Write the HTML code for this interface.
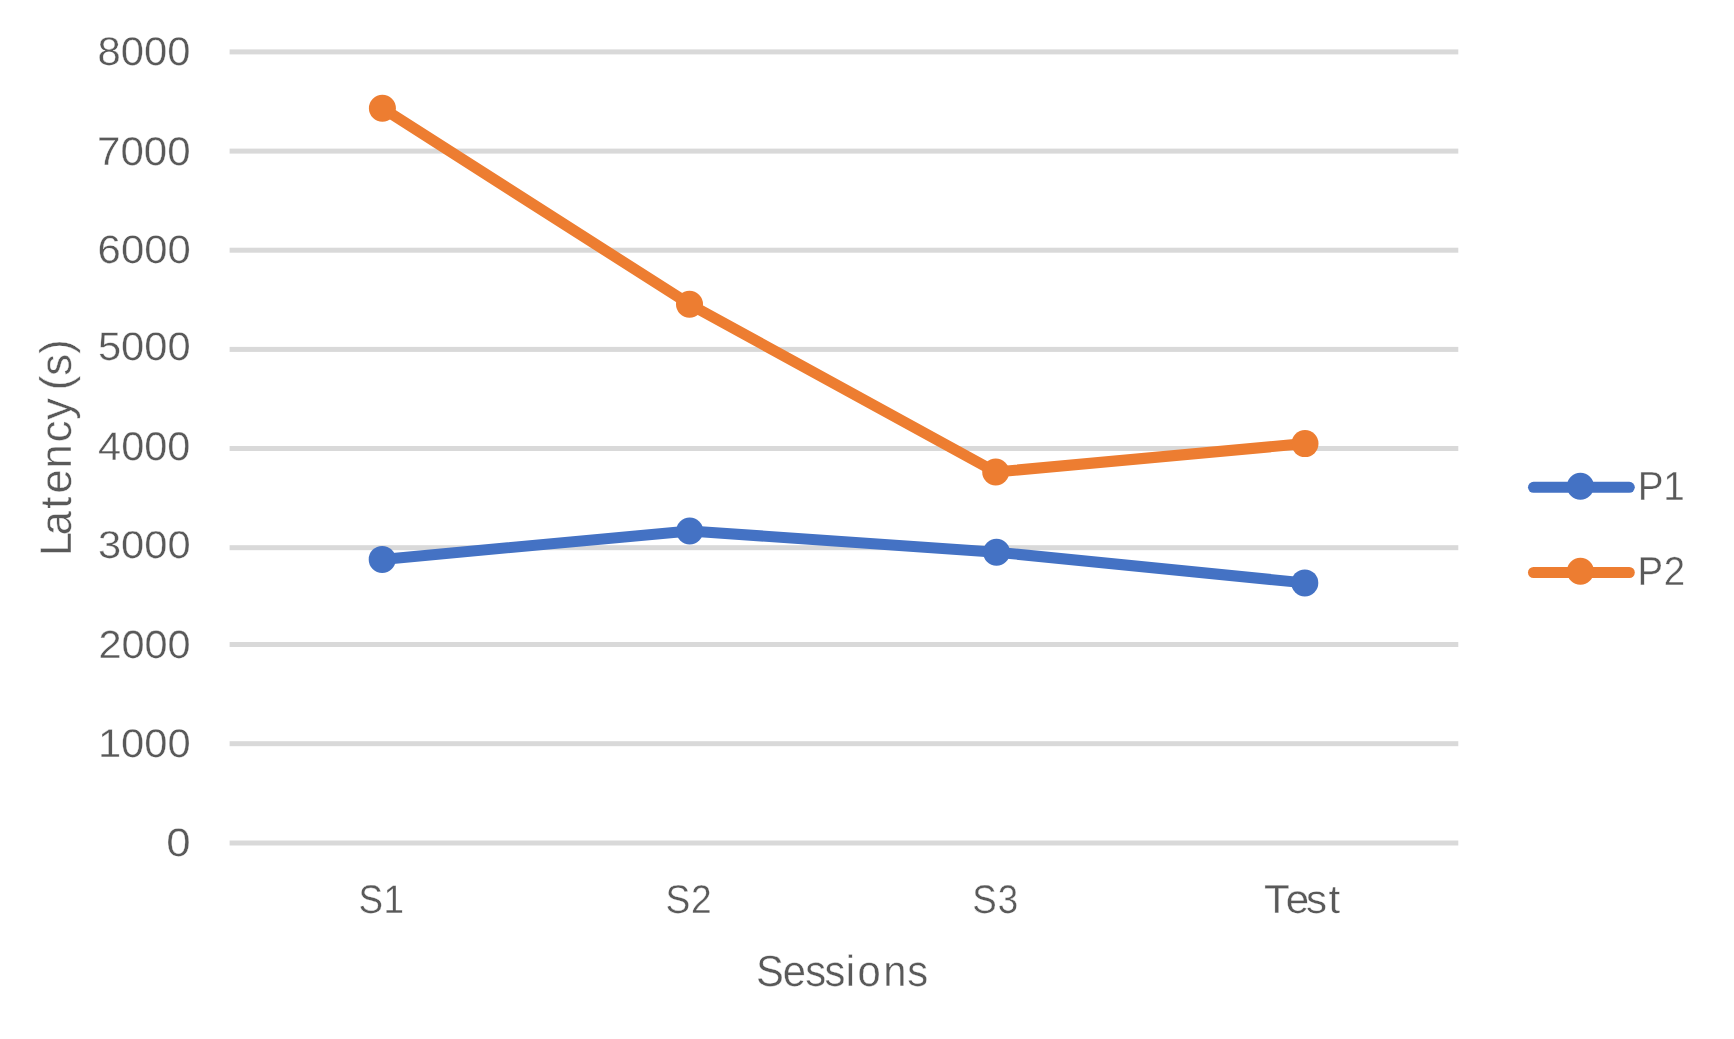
<!DOCTYPE html><html><head><meta charset="utf-8"><style>html,body{margin:0;padding:0;background:#fff;overflow:hidden;}svg{display:block;will-change:transform;}text{font-family:"Liberation Sans",sans-serif;text-rendering:geometricPrecision;}</style></head><body>
<svg width="1734" height="1039" viewBox="0 0 1734 1039">
<rect width="1734" height="1039" fill="#fff"/>
<rect x="229.6" y="49.40" width="1228.7" height="5" fill="#d9d9d9"/>
<rect x="229.6" y="148.60" width="1228.7" height="5" fill="#d9d9d9"/>
<rect x="229.6" y="247.70" width="1228.7" height="5" fill="#d9d9d9"/>
<rect x="229.6" y="346.90" width="1228.7" height="5" fill="#d9d9d9"/>
<rect x="229.6" y="446.00" width="1228.7" height="5" fill="#d9d9d9"/>
<rect x="229.6" y="545.20" width="1228.7" height="5" fill="#d9d9d9"/>
<rect x="229.6" y="642.00" width="1228.7" height="5" fill="#d9d9d9"/>
<rect x="229.6" y="741.20" width="1228.7" height="5" fill="#d9d9d9"/>
<rect x="229.6" y="840.50" width="1228.7" height="5" fill="#d9d9d9"/>
<text font-size="40" fill="#595959" stroke="#fff" stroke-width="0.35" transform="matrix(1.0452 0 0 0.9978 97.620 65.243)">8000</text>
<text font-size="40" fill="#595959" stroke="#fff" stroke-width="0.35" transform="matrix(1.0517 0 0 1.0016 97.046 164.663)">7000</text>
<text font-size="40" fill="#595959" stroke="#fff" stroke-width="0.35" transform="matrix(1.0459 0 0 0.9887 97.617 263.280)">6000</text>
<text font-size="40" fill="#595959" stroke="#fff" stroke-width="0.35" transform="matrix(1.0416 0 0 0.9943 97.920 360.336)">5000</text>
<text font-size="40" fill="#595959" stroke="#fff" stroke-width="0.35" transform="matrix(1.0380 0 0 0.9995 98.094 459.670)">4000</text>
<text font-size="40" fill="#595959" stroke="#fff" stroke-width="0.35" transform="matrix(1.0406 0 0 0.9680 97.961 558.124)">3000</text>
<text font-size="40" fill="#595959" stroke="#fff" stroke-width="0.35" transform="matrix(1.0370 0 0 0.9802 98.383 657.680)">2000</text>
<text font-size="40" fill="#595959" stroke="#fff" stroke-width="0.35" transform="matrix(1.0420 0 0 0.9964 97.940 756.673)">1000</text>
<text font-size="40" fill="#595959" stroke="#fff" stroke-width="0.35" transform="matrix(1.0966 0 0 0.9922 166.321 856.403)">0</text>
<text font-size="40" fill="#595959" stroke="#fff" stroke-width="0.35" transform="matrix(0.9197 0 0 0.9991 360.218 912.872)" x="-1.746 25.408">S1</text>
<text font-size="40" fill="#595959" stroke="#fff" stroke-width="0.35" transform="matrix(0.9286 0 0 1.0022 666.980 913.034)" x="-1.581 25.792">S2</text>
<text font-size="40" fill="#595959" stroke="#fff" stroke-width="0.35" transform="matrix(0.9180 0 0 1.0001 973.840 913.005)" x="-1.639 25.969">S3</text>
<text font-size="40" fill="#595959" stroke="#fff" stroke-width="0.35" transform="matrix(1.0516 0 0 1.0054 1264.908 912.836)" x="-0.947 19.706 39.060 60.367">Test</text>
<text font-size="40" fill="#595959" stroke="#fff" stroke-width="0.35" transform="matrix(1.0438 0 0 1.0908 757.899 986.149)" x="-1.853 23.704 45.403 63.912 84.069 95.537 119.985 143.035">Sessions</text>
<text font-size="40" fill="#595959" stroke="#fff" stroke-width="0.35" transform="matrix(0.9669 0 0 1.0172 1638.320 499.970)" x="-0.708 25.913">P1</text>
<text font-size="40" fill="#595959" stroke="#fff" stroke-width="0.35" transform="matrix(0.9602 0 0 1.0131 1638.479 585.143)" x="-1.103 26.266">P2</text>
<text font-size="40" fill="#595959" stroke="#fff" stroke-width="0.35" transform="matrix(0 -1.0864 1.1068 0 70.732 554.527)" x="-1.365 17.731 42.068 56.083 79.208 103.237 124.026 140.094 151.327 164.595 184.930">Latency (s)</text>
<polyline points="382.2,559.4 689.7,531.0 996.5,552.2 1304.8,582.9" fill="none" stroke="#4472C4" stroke-width="11" stroke-linejoin="round" stroke-linecap="round"/>
<circle cx="382.2" cy="559.4" r="13.5" fill="#4472C4"/>
<circle cx="689.7" cy="531.0" r="13.5" fill="#4472C4"/>
<circle cx="996.5" cy="552.2" r="13.5" fill="#4472C4"/>
<circle cx="1304.8" cy="582.9" r="13.5" fill="#4472C4"/>
<polyline points="382.4,108.2 689.5,304.2 995.7,472.0 1305.0,443.6" fill="none" stroke="#ED7D31" stroke-width="11" stroke-linejoin="round" stroke-linecap="round"/>
<circle cx="382.4" cy="108.2" r="13.5" fill="#ED7D31"/>
<circle cx="689.5" cy="304.2" r="13.5" fill="#ED7D31"/>
<circle cx="995.7" cy="472.0" r="13.5" fill="#ED7D31"/>
<circle cx="1305.0" cy="443.6" r="13.5" fill="#ED7D31"/>
<line x1="1533.5" y1="487.3" x2="1629.3" y2="487.3" stroke="#4472C4" stroke-width="11" stroke-linecap="round"/>
<circle cx="1580.4" cy="486.3" r="13.5" fill="#4472C4"/>
<line x1="1533.5" y1="572.5" x2="1629.3" y2="572.5" stroke="#ED7D31" stroke-width="11" stroke-linecap="round"/>
<circle cx="1580.4" cy="571.2" r="13.5" fill="#ED7D31"/>
</svg></body></html>
